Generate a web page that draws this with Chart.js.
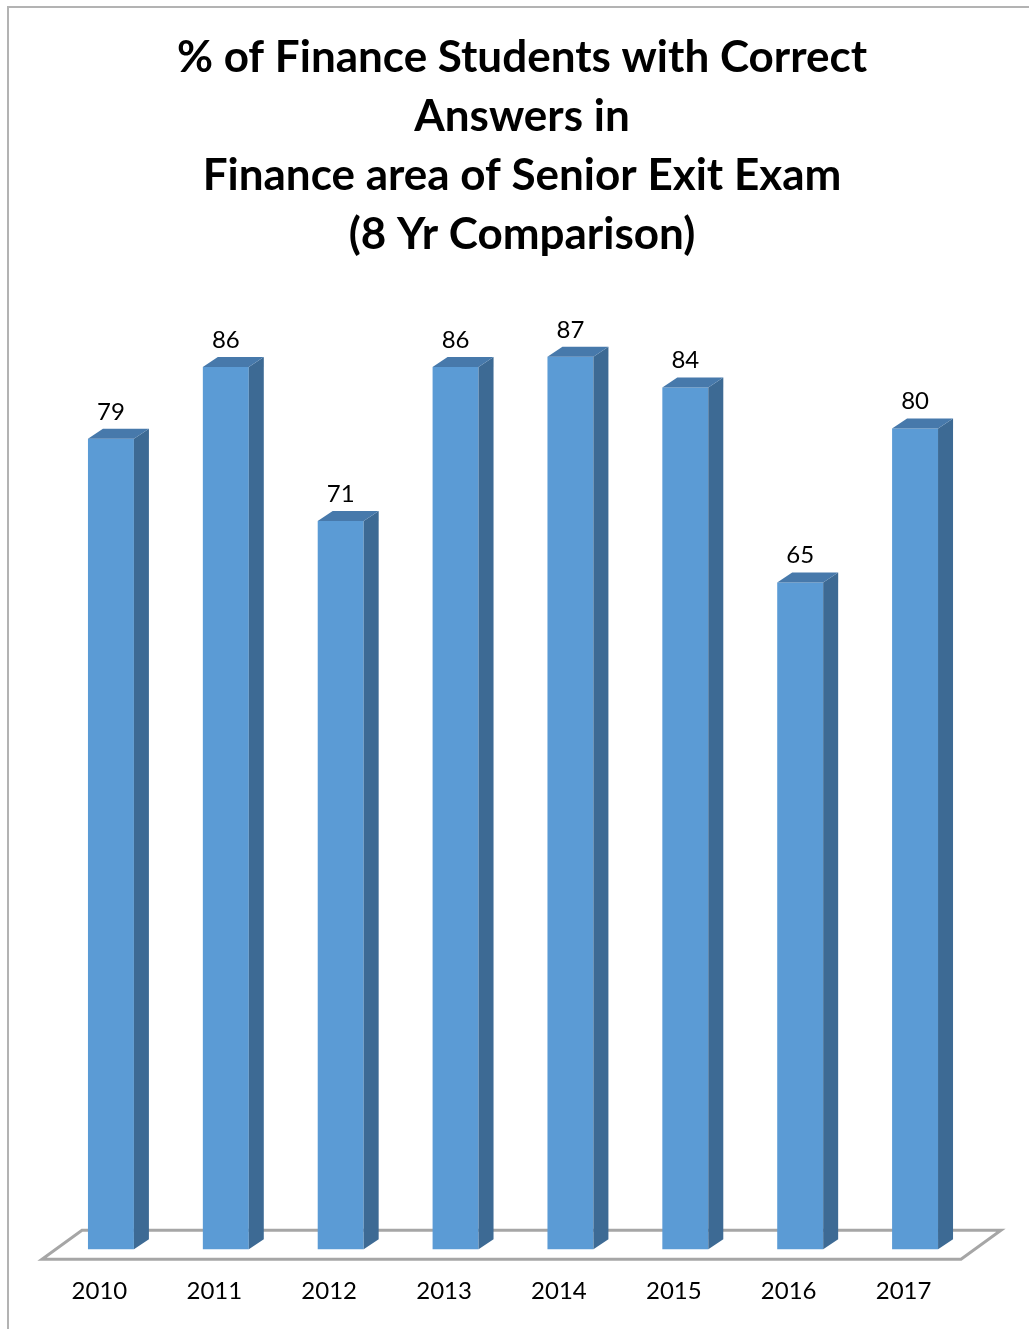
<!DOCTYPE html>
<html>
<head>
<meta charset="utf-8">
<script src="https://cdn.jsdelivr.net/npm/chart.js@4.4.1/dist/chart.umd.min.js"></script>
<style>
  html, body { margin: 0; padding: 0; background: #fff; }
  canvas { display: block; }
</style>
</head>
<body>
<canvas id="examChart" width="1029" height="1329"></canvas>
<script>
const years = ['2010', '2011', '2012', '2013', '2014', '2015', '2016', '2017'];
const scores = [79, 86, 71, 86, 87, 84, 65, 80];
const titleLines = [
    '% of Finance Students with Correct',
    'Answers in',
    'Finance area of Senior Exit Exam',
    '(8 Yr Comparison)'
];

const FRONT = '#5b9bd5';
const SIDE = '#3d6a94';
const TOP = '#4779ab';
const FLOOR = '#a6a6a6';

// bars stand a little behind the front edge of the floor
const BAR_SHIFT = { x: 11.5, y: -10 };
const BAR_DEPTH = { x: 15, y: -10 };
const FLOOR_DEPTH = { x: 40, y: -29 };

const font = 'Lato, "Open Sans", sans-serif';

// outer frame: only top and left edges show
const framePlugin = {
    id: 'frame',
    beforeDraw(chart) {
        const ctx = chart.ctx;
        ctx.save();
        ctx.strokeStyle = '#b3b3b3';
        ctx.lineWidth = 2;
        ctx.beginPath();
        ctx.moveTo(8, chart.height);
        ctx.lineTo(8, 7);
        ctx.lineTo(chart.width, 7);
        ctx.stroke();
        ctx.restore();
    }
};

const bars3d = {
    id: 'bars3d',
    beforeDatasetsDraw(chart) {
        const ctx = chart.ctx;
        const { left, right, bottom } = chart.chartArea;

        // floor plate
        ctx.save();
        ctx.strokeStyle = FLOOR;
        ctx.lineWidth = 3;
        ctx.beginPath();
        ctx.moveTo(left, bottom);
        ctx.lineTo(right, bottom);
        ctx.lineTo(right + FLOOR_DEPTH.x, bottom + FLOOR_DEPTH.y);
        ctx.lineTo(left + FLOOR_DEPTH.x, bottom + FLOOR_DEPTH.y);
        ctx.closePath();
        ctx.stroke();
        ctx.restore();

        ctx.save();
        ctx.translate(BAR_SHIFT.x, BAR_SHIFT.y);
    },
    afterDatasetsDraw(chart) {
        const ctx = chart.ctx;
        const meta = chart.getDatasetMeta(0);
        const dx = BAR_DEPTH.x, dy = BAR_DEPTH.y;

        meta.data.forEach((bar, i) => {
            const { x, y, base, width } = bar.getProps(['x', 'y', 'base', 'width'], true);
            const l = x - width / 2, r = x + width / 2;

            // right side
            ctx.fillStyle = SIDE;
            ctx.beginPath();
            ctx.moveTo(r, y);
            ctx.lineTo(r + dx, y + dy);
            ctx.lineTo(r + dx, base + dy);
            ctx.lineTo(r, base);
            ctx.closePath();
            ctx.fill();

            // top face
            ctx.fillStyle = TOP;
            ctx.beginPath();
            ctx.moveTo(l, y);
            ctx.lineTo(l + dx, y + dy);
            ctx.lineTo(r + dx, y + dy);
            ctx.lineTo(r, y);
            ctx.closePath();
            ctx.fill();

            // value label
            ctx.fillStyle = '#000';
            ctx.font = '24px ' + font;
            ctx.textAlign = 'center';
            ctx.textBaseline = 'middle';
            ctx.fillText(String(scores[i]), x, y - 27);
        });

        ctx.restore();
    }
};

new Chart(document.getElementById('examChart'), {
    type: 'bar',
    data: {
        labels: years,
        datasets: [{
            data: scores,
            backgroundColor: FRONT,
            borderWidth: 0,
            barPercentage: 0.4,
            categoryPercentage: 1,
            clip: false
        }]
    },
    options: {
        responsive: false,
        devicePixelRatio: 1,
        animation: false,
        layout: { padding: { left: 42, right: 27, top: 0, bottom: 5 } },
        plugins: {
            legend: { display: false },
            tooltip: { enabled: false },
            title: {
                display: true,
                text: titleLines,
                color: '#000',
                font: { family: font, size: 44, weight: 'bold', lineHeight: '59px' },
                padding: { top: 28, bottom: 72 }
            }
        },
        scales: {
            x: {
                grid: { display: false, drawTicks: false },
                border: { display: false },
                ticks: { color: '#000', font: { family: font, size: 24 }, padding: 18 }
            },
            y: {
                position: 'right',
                min: 0,
                max: 90,
                grid: { display: false, drawTicks: false },
                border: { display: false },
                ticks: { display: false },
                afterFit: scale => { scale.width = 41; }
            }
        }
    },
    plugins: [framePlugin, bars3d]
});
</script>
</body>
</html>
